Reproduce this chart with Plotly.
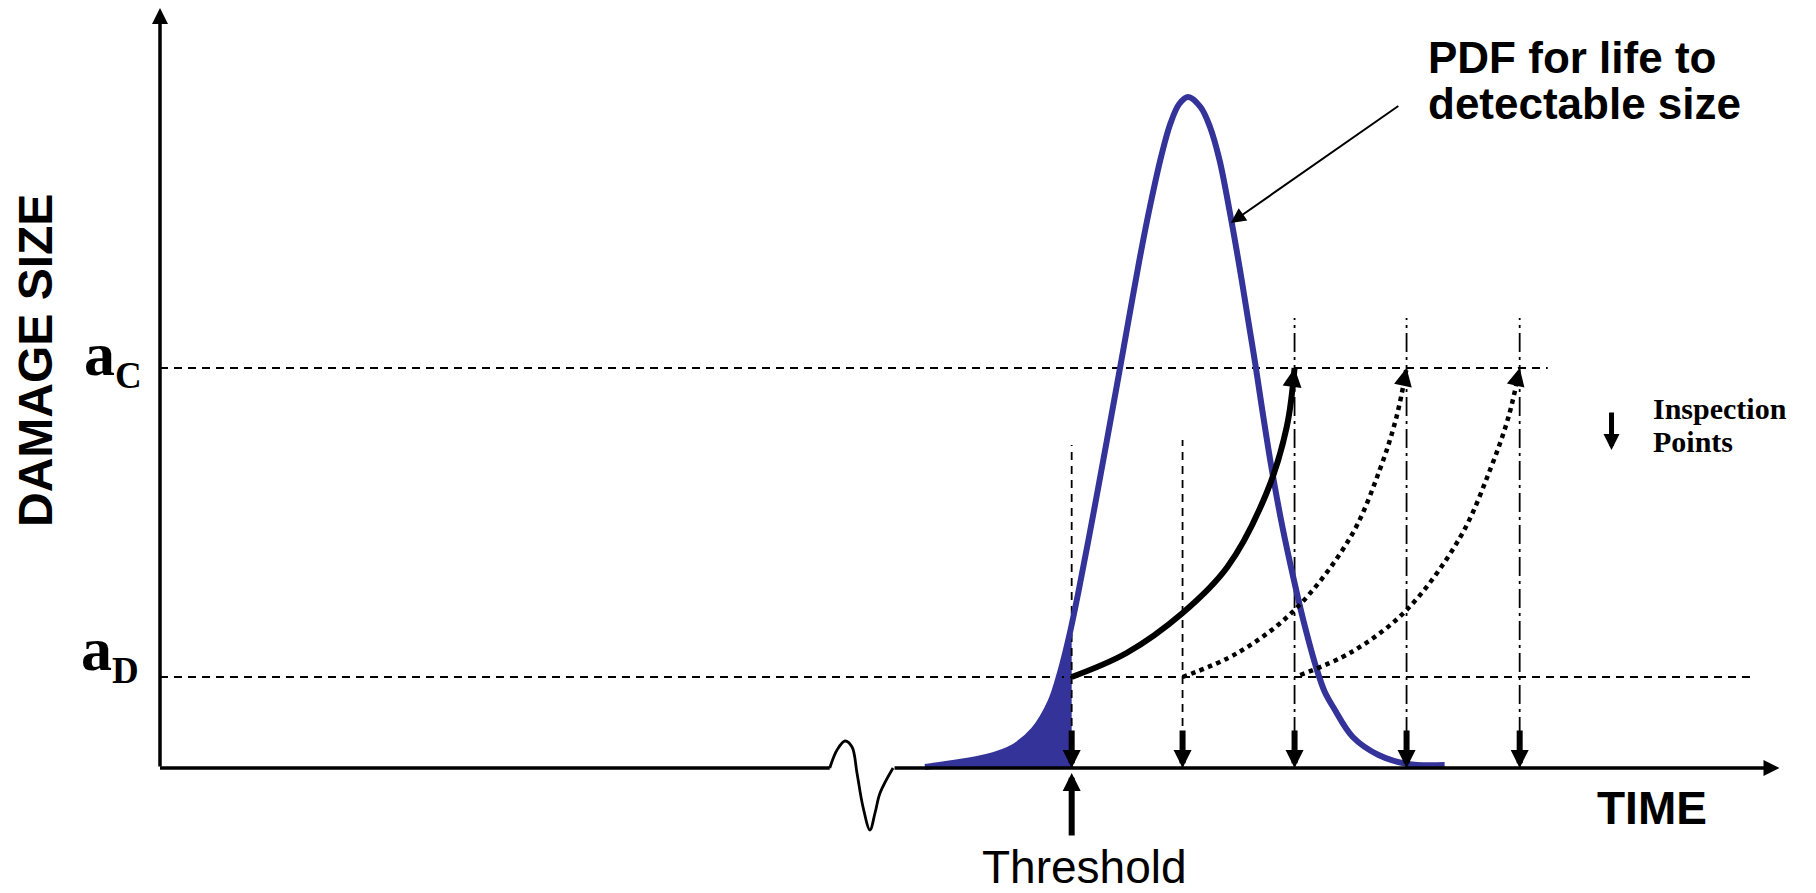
import numpy as np
import plotly.graph_objects as go

# ---------------- data ----------------
# PDF for life to detectable size (time, density-height in damage-size units)
pdf_t = [6.83, 7.08, 7.38, 7.62, 7.80, 7.95, 8.04, 8.12, 8.20, 8.33, 8.455, 8.57,
         8.68, 8.76, 8.84, 8.94, 9.02, 9.10, 9.18, 9.29, 9.375, 9.46, 9.55, 9.64,
         9.72, 9.785, 9.85, 9.92, 10.02, 10.12, 10.21, 10.33, 10.40, 10.48, 10.65,
         10.88, 11.14, 11.47]
pdf_y = [0.01, 0.05, 0.11, 0.21, 0.38, 0.66, 0.97, 1.33, 1.76, 2.52, 3.28, 3.99,
         4.68, 5.17, 5.62, 6.12, 6.44, 6.64, 6.71, 6.61, 6.41, 6.08, 5.57, 5.00,
         4.45, 4.00, 3.52, 3.03, 2.42, 1.90, 1.47, 0.98, 0.76, 0.60, 0.31,
         0.13, 0.04, 0.03]

threshold_t = 8.14
inspection_t = [8.14, 9.13, 10.13, 11.13, 12.14]
inspection_line_top = [3.23, 3.28, 4.50, 4.50, 4.50]
inspection_line_kind = ["dash", "dash", "dashdot", "dashdot", "dashdot"]

a_D = 0.91
a_C = 4.0
a_D_line_end = 14.21
a_C_line_end = 12.39

# damage growth curves from a_D to a_C
growth_solid_t = [8.14, 8.63, 9.13, 9.53, 9.88, 10.06, 10.13]
growth_solid_a = [0.91, 1.15, 1.55, 2.01, 2.75, 3.41, 4.00]
growth_dot1_t = [9.13, 9.62, 10.13, 10.63, 10.89, 11.04, 11.13]
growth_dot1_a = [0.91, 1.15, 1.58, 2.31, 2.98, 3.51, 4.00]
growth_dot2_t = [10.18, 10.64, 11.13, 11.61, 11.875, 12.04, 12.14]
growth_dot2_a = [0.93, 1.16, 1.58, 2.31, 2.98, 3.51, 4.00]

# axes geometry (time / damage-size units)
x_axis_end = 14.46
y_axis_top = 7.60
left_axis_end = 5.98
break_t = [5.98, 6.045, 6.116, 6.179, 6.223, 6.277, 6.339, 6.384, 6.429, 6.545]
break_y = [0.0, 0.18, 0.27, 0.21, -0.05, -0.39, -0.62, -0.45, -0.25, 0.0]

# ---------------- figure ----------------
W, H = 1816, 893
XR = [-160 / 112, (W - 160) / 112]
YR = [-(H - 768) / 100, 768 / 100]
sx = W / (XR[1] - XR[0])
sy = H / (YR[1] - YR[0])

BLUE = "#333399"
SANS = "Liberation Sans, Arial, sans-serif"
SERIF = "Liberation Serif, Times New Roman, serif"

fig = go.Figure()

# filled area under PDF up to the threshold
thr_val = float(np.interp(threshold_t, pdf_t, pdf_y))
fill_t = [t for t in pdf_t if t < threshold_t] + [threshold_t]
fill_y = [y for t, y in zip(pdf_t, pdf_y) if t < threshold_t] + [thr_val]
fig.add_trace(go.Scatter(x=fill_t, y=fill_y, mode="lines", fill="tozeroy",
                         fillcolor=BLUE, line=dict(width=0, color=BLUE, shape="spline"),
                         hoverinfo="skip"))

# horizontal a_D, a_C dashed lines
fig.add_trace(go.Scatter(x=[0, a_D_line_end], y=[a_D, a_D], mode="lines",
                         line=dict(color="black", width=2, dash="8px,6px")))
fig.add_trace(go.Scatter(x=[0, a_C_line_end], y=[a_C, a_C], mode="lines",
                         line=dict(color="black", width=2, dash="8px,6px")))

# vertical inspection lines
for t, top, kind in zip(inspection_t, inspection_line_top, inspection_line_kind):
    dash = "8px,6px" if kind == "dash" else "19px,5px,3px,5px"
    fig.add_trace(go.Scatter(x=[t, t], y=[0, top], mode="lines",
                             line=dict(color="black", width=1.8, dash=dash)))

# PDF curve
fig.add_trace(go.Scatter(x=pdf_t, y=pdf_y, mode="lines",
                         line=dict(color=BLUE, width=6, shape="spline", smoothing=1)))

# growth curves
fig.add_trace(go.Scatter(x=growth_solid_t, y=growth_solid_a, mode="lines",
                         line=dict(color="black", width=6, shape="spline")))
fig.add_trace(go.Scatter(x=growth_dot1_t, y=growth_dot1_a, mode="lines",
                         line=dict(color="black", width=4.5, dash="dot", shape="spline")))
fig.add_trace(go.Scatter(x=growth_dot2_t, y=growth_dot2_a, mode="lines",
                         line=dict(color="black", width=4.5, dash="dot", shape="spline")))

# axes lines
fig.add_trace(go.Scatter(x=[0, left_axis_end], y=[0, 0], mode="lines",
                         line=dict(color="black", width=3.5)))
fig.add_trace(go.Scatter(x=break_t, y=break_y, mode="lines",
                         line=dict(color="black", width=2.8, shape="spline")))

annotations = []


def arrow(x, y, ax, ay, width, half_head, ref="pixel", head=2):
    d = dict(x=x, y=y, ax=ax, ay=ay, xref="x", yref="y", text="", showarrow=True,
             arrowhead=head, arrowwidth=width, arrowsize=half_head / (2.5 * width),
             arrowcolor="black", standoff=0, startstandoff=0)
    if ref == "data":
        d.update(axref="x", ayref="y")
    return d


def curve_head(t, a, width, half_head, length=18):
    dx = (t[-1] - t[-2]) * sx
    dy = (a[-1] - a[-2]) * sy
    L = np.hypot(dx, dy)
    return arrow(t[-1], a[-1], -dx / L * length, dy / L * length, width, half_head)


# axis arrows
annotations.append(arrow(0, y_axis_top, 0, 0, 3.5, 8, ref="data"))
annotations.append(arrow(x_axis_end, 0, break_t[-1], 0, 3.5, 8, ref="data"))

# inspection point arrows
for t in inspection_t:
    annotations.append(arrow(t, 0, 0, -39, 6, 9))

# threshold arrow (pointing up)
annotations.append(arrow(threshold_t, -0.05, 0, 64, 6, 9))

# growth curve heads
annotations.append(curve_head(growth_solid_t, growth_solid_a, 5, 9.5))
annotations.append(curve_head(growth_dot1_t, growth_dot1_a, 2, 9))
annotations.append(curve_head(growth_dot2_t, growth_dot2_a, 2, 9))

# pointer to the PDF
annotations.append(arrow(9.56, 5.45, 11.07, 6.63, 2, 7.5, ref="data"))

# legend arrow
annotations.append(arrow(12.96, 3.18, 0, -39, 5, 8))

# texts
def text(x, y, s, size, family=SANS, bold=False, xanchor="center", yanchor="middle", angle=0):
    return dict(x=x, y=y, xref="x", yref="y", text=s, showarrow=False,
                font=dict(family=family, size=size, color="black",
                          weight="bold" if bold else "normal"),
                xanchor=xanchor, yanchor=yanchor, textangle=angle)


annotations.append(text(-1.116, 4.07, "DAMAGE SIZE", 48, bold=True, angle=-90))
annotations.append(text(13.32, -0.40, "TIME", 46, bold=True))
annotations.append(text(8.25, -0.99, "Threshold", 46))
annotations.append(text(11.30, 7.11, "PDF for life to", 44, bold=True, xanchor="left"))
annotations.append(text(11.30, 6.65, "detectable size", 44, bold=True, xanchor="left"))
annotations.append(text(13.31, 3.60, "Inspection", 30, family=SERIF, bold=True, xanchor="left"))
annotations.append(text(13.31, 3.27, "Points", 30, family=SERIF, bold=True, xanchor="left"))
annotations.append(text(-0.70, 4.10, "a<sub><span style='font-size:37px'>C</span></sub>", 62,
                        family=SERIF, bold=True, xanchor="left"))
annotations.append(text(-0.72, 1.15, "a<sub><span style='font-size:37px'>D</span></sub>", 62,
                        family=SERIF, bold=True, xanchor="left"))

fig.update_layout(
    width=W, height=H,
    margin=dict(l=0, r=0, t=0, b=0),
    paper_bgcolor="white", plot_bgcolor="white",
    showlegend=False,
    xaxis=dict(range=XR, visible=False, fixedrange=True),
    yaxis=dict(range=YR, visible=False, fixedrange=True),
    annotations=annotations,
)

fig.write_html("out.html", config={"displayModeBar": False},
               post_script="document.body.style.margin='0';document.body.style.overflow='hidden';")
